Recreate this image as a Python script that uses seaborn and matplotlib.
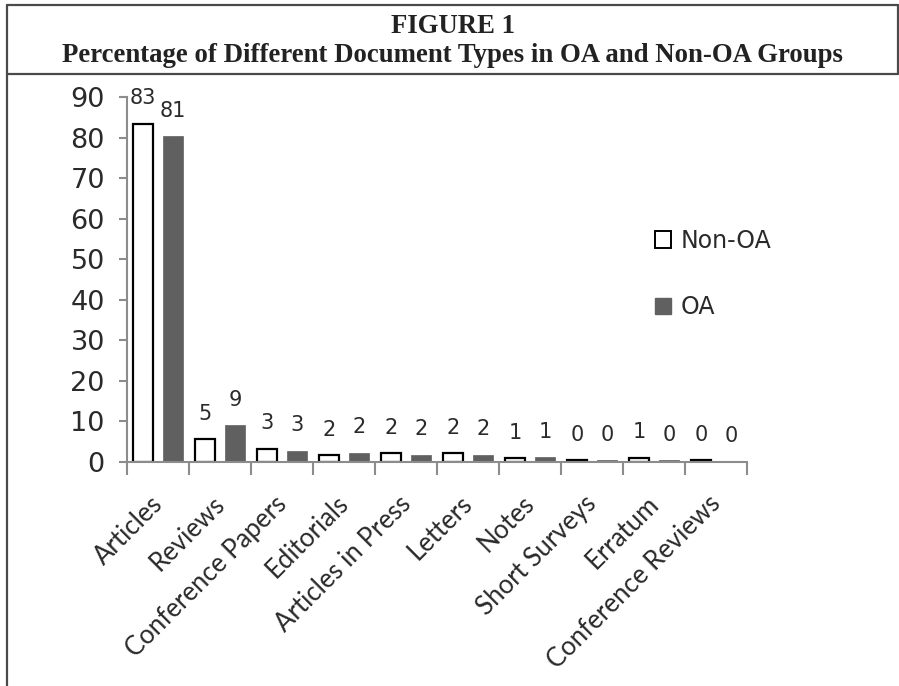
import matplotlib
matplotlib.use("Agg")
import matplotlib.pyplot as plt
import matplotlib.transforms as mtrans
from matplotlib.lines import Line2D
import seaborn as sns
import pandas as pd

# values (percent)
doc_types = ["Articles", "Reviews", "Conference Papers", "Editorials", "Articles in Press",
             "Letters", "Notes", "Short Surveys", "Erratum", "Conference Reviews"]
non_oa = [83.4, 5.6, 3.3, 1.7, 2.2, 2.2, 1.0, 0.5, 1.1, 0.4]
oa = [80.4, 9.1, 2.8, 2.3, 1.8, 1.8, 1.15, 0.4, 0.5, 0.1]
non_oa_labels = ["83", "5", "3", "2", "2", "2", "1", "0", "1", "0"]
oa_labels = ["81", "9", "3", "2", "2", "2", "1", "0", "0", "0"]
groups = ["Non-OA", "OA"]

df = pd.DataFrame({
    "Type": doc_types * 2,
    "Group": ["Non-OA"] * len(doc_types) + ["OA"] * len(doc_types),
    "Percent": non_oa + oa,
})

sns.set_style("white")
plt.rcParams["font.family"] = ["DejaVu Sans"]
txt_col = "#2a2a2a"
axis_col = "#8c8c8c"

fig = plt.figure(figsize=(8.99, 6.86), dpi=100)
ax = fig.add_axes([127 / 899, 1 - 462 / 686, (747 - 127) / 899, (462 - 97) / 686])

sns.barplot(data=df, x="Type", y="Percent", hue="Group", hue_order=groups,
            palette={"Non-OA": "white", "OA": "#606060"}, width=0.97, gap=0.36,
            ax=ax, legend=False)

# outline style per series
for bar in ax.containers[0]:
    bar.set_edgecolor("black")
    bar.set_linewidth(1.6)
for bar in ax.containers[1]:
    bar.set_edgecolor("#606060")
    bar.set_linewidth(0.5)

ax.bar_label(ax.containers[0], labels=non_oa_labels, padding=11, fontsize=15, color=txt_col)
ax.bar_label(ax.containers[1], labels=oa_labels, padding=11, fontsize=15, color=txt_col)

ax.set_xlim(-0.5, len(doc_types) - 0.5)
ax.set_ylim(0, 90)
ax.set_yticks(range(0, 91, 10))
ax.set_xlabel("")
ax.set_ylabel("")

# tick marks at category boundaries, rotated names drawn at category centres
ax.set_xticks([i - 0.5 for i in range(len(doc_types) + 1)])
ax.set_xticklabels([])
ax.tick_params(axis="x", length=9, width=1.5, color=axis_col, direction="out")
ax.tick_params(axis="y", length=6, width=1.5, color=axis_col, direction="out",
               labelsize=19.5, labelcolor=txt_col, pad=10)
ax.tick_params(left=True, bottom=True)

lab_trans = ax.get_xaxis_transform() + mtrans.ScaledTranslation(-8 / 100, -29 / 100, fig.dpi_scale_trans)
for i, name in enumerate(doc_types):
    ax.text(i, 0, name, transform=lab_trans, rotation=45, ha="right", va="top",
            rotation_mode="anchor", fontsize=18.5, family="Lato", color=txt_col)

sns.despine(ax=ax, top=True, right=True)
for side in ["left", "bottom"]:
    ax.spines[side].set_color(axis_col)
    ax.spines[side].set_linewidth(1.5)

# legend with square markers
handles = [plt.Rectangle((0, 0), 1, 1, facecolor="white", edgecolor="black", linewidth=1.4),
           plt.Rectangle((0, 0), 1, 1, facecolor="#606060", edgecolor="#606060")]
fig.legend(handles, groups, loc="center left", bbox_to_anchor=(634 / 899, 1 - 274 / 686),
           frameon=False, fontsize=17, handlelength=0.68, handleheight=0.68,
           handletextpad=0.4, labelspacing=1.8, labelcolor=txt_col)

# title block
fig.text(453 / 899, 1 - 33 / 686, "FIGURE 1", ha="center", va="baseline",
         family="Liberation Serif", weight="bold", fontsize=19.3, color="#222222")
fig.text(452 / 899, 1 - 62 / 686, "Percentage of Different Document Types in OA and Non-OA Groups",
         ha="center", va="baseline", family="Liberation Serif", weight="bold",
         fontsize=19.3, color="#222222")

# frame lines around the figure
frame_col = "#4a4a4a"
fig.add_artist(Line2D([6.5 / 899, 6.5 / 899], [0, 1 - 5 / 686], color=frame_col, lw=1.6))
fig.add_artist(Line2D([6.5 / 899, 897.5 / 899], [1 - 5 / 686, 1 - 5 / 686], color=frame_col, lw=1.6))
fig.add_artist(Line2D([897.5 / 899, 897.5 / 899], [1 - 5 / 686, 1 - 74 / 686], color=frame_col, lw=1.6))
fig.add_artist(Line2D([6.5 / 899, 897.5 / 899], [1 - 74 / 686, 1 - 74 / 686], color=frame_col, lw=1.6))

fig.savefig("out.png", dpi=100)
